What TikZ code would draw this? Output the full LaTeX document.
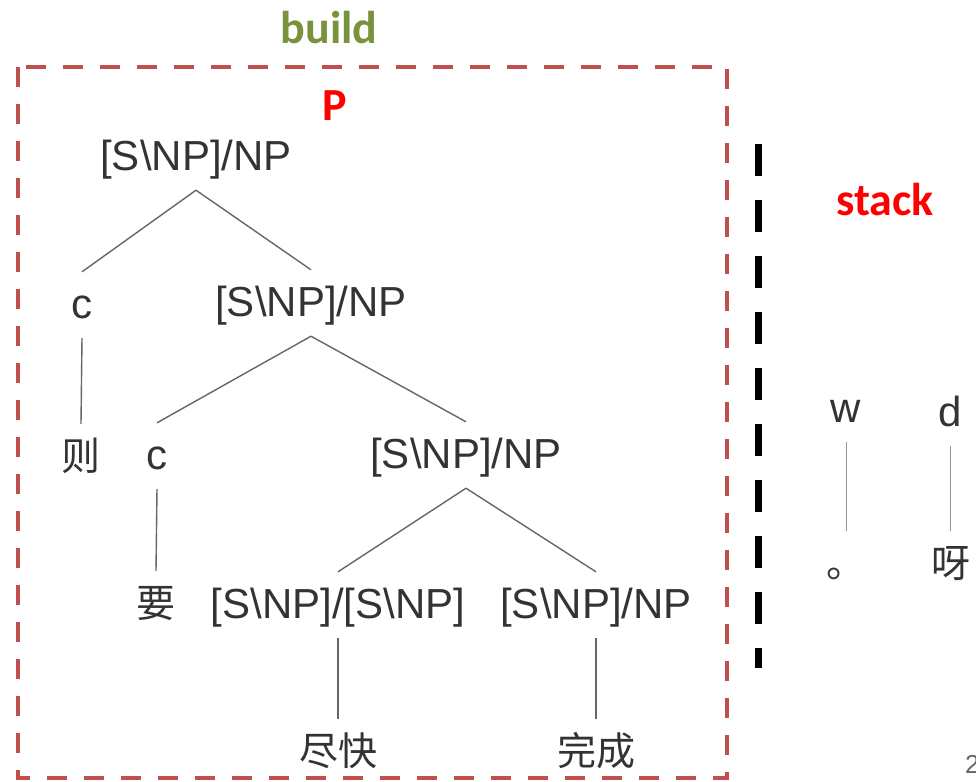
\documentclass[tikz,border=0pt]{standalone}
\usepackage{fontspec}
\setmainfont{Liberation Sans}
\newfontfamily\cjkf{Noto Sans CJK SC}
\newfontfamily\calib{Carlito}
\definecolor{boxred}{HTML}{C0504D}
\definecolor{txtgray}{HTML}{333333}
\definecolor{linegray}{HTML}{666666}
\definecolor{buildgreen}{HTML}{77933C}
\begin{document}
\begin{tikzpicture}[x=1pt,y=-1pt,
  cat/.style={text=txtgray,font=\fontsize{42}{50}\selectfont,inner xsep=0pt,
    text height=32pt,text depth=6pt,inner ysep=14pt},
  word/.style={text=txtgray,font=\cjkf\fontsize{39}{46}\selectfont,inner xsep=0pt,
    text height=32pt,text depth=6pt,inner ysep=14pt},
  edge/.style={draw=linegray,line width=1.4pt},
  label/.style={font=\calib\bfseries\fontsize{46}{54}\selectfont,inner sep=0pt}]
\useasboundingbox (0,0) rectangle (976,781);
% frames
\draw[boxred,line width=4pt,dash pattern=on 20pt off 17pt] (18,67) rectangle (727,778);
\draw[black,line width=7pt,dash pattern=on 32pt off 24pt] (758,144) -- (758,668);
% labels
\node[label,text=buildgreen] (build) at (329,28) {build};
\node[label,text=red] (P) at (335,106) {P};
\node[label,text=red] (stack) at (885,200) {stack};
% tree
\node[cat] (n1) at (196,157) {[S\textbackslash NP]/NP};
\node[cat] (c1) at (82,305) {c};
\node[cat] (n2) at (311,303) {[S\textbackslash NP]/NP};
\node[word] (ze) at (81,457) {则};
\node[cat] (c2) at (157,456) {c};
\node[cat] (n3) at (466,455) {[S\textbackslash NP]/NP};
\node[word] (yao) at (156,604) {要};
\node[cat] (n4) at (338,605) {[S\textbackslash NP]/[S\textbackslash NP]};
\node[cat] (n5) at (596,605) {[S\textbackslash NP]/NP};
\node[word] (jk) at (338,752) {尽快};
\node[word] (wc) at (596,752) {完成};
\draw[edge] (n1.south) -- (c1.north);
\draw[edge] (n1.south) -- (n2.north);
\draw[edge] (c1.south) -- (ze.north);
\draw[edge] (n2.south) -- (c2.north);
\draw[edge] (n2.south) -- (n3.north);
\draw[edge] (c2.south) -- (yao.north);
\draw[edge] (n3.south) -- (n4.north);
\draw[edge] (n3.south) -- (n5.north);
\draw[edge] (n4.south) -- (jk.north);
\draw[edge] (n5.south) -- (wc.north);
% stack
\node[cat] (w) at (846,409) {w};
\node[word] (dot) at (846,564) {。};
\node[cat] (d) at (950,413) {d};
\node[word] (ya) at (951,564) {呀};
\draw[edge,line width=1pt,draw=linegray!70] (w.south) -- (w.south |- dot.north);
\draw[edge,line width=1pt,draw=linegray!70] (d.south) -- (d.south |- ya.north);
\node[text=linegray,font=\fontsize{26}{30}\selectfont,anchor=west,inner sep=0pt] (pg) at (965,764) {2};
\end{tikzpicture}
\end{document}
